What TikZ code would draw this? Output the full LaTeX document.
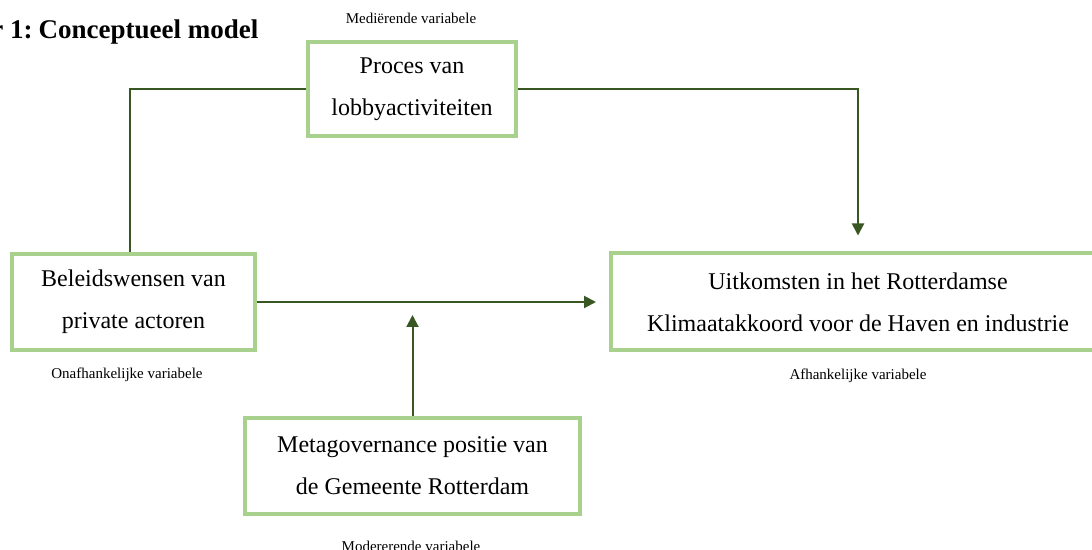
\documentclass[tikz,border=0pt]{standalone}
\usepackage{fontspec}
\setmainfont{Liberation Serif}
\usetikzlibrary{arrows.meta}
\definecolor{donkergroen}{HTML}{385723}
\definecolor{lichtgroen}{HTML}{A9D18E}

\begin{document}
\begin{tikzpicture}[
    x=0.5pt, y=-0.5pt,
    box/.style={draw=lichtgroen, line width=2pt, fill=white, align=center,
                font=\fontsize{12}{21}\selectfont},
    lbl/.style={font=\fontsize{7.5}{9}\selectfont, inner sep=0pt},
    conn/.style={draw=donkergroen, line width=1pt},
    >={Triangle[length=6pt, width=6pt]}
]
    \useasboundingbox (0,0) rectangle (1092,550);

    % 标题
    \node[anchor=base west, inner sep=0pt, font=\fontsize{13.5}{16}\selectfont\bfseries]
        (title) at (-9,39) {r 1:\hspace{-1.5pt} Conceptueel model};

    % 节点定义 (4个变量)
    \node[box, minimum width=104pt, minimum height=47pt] (P) at (412,89)
        {Proces van\\lobbyactiviteiten};                       % 上节点
    \node[box, minimum width=121.5pt, minimum height=48pt] (B) at (133.5,302)
        {Beleidswensen van\\private actoren};                  % 左节点
    \node[box, minimum width=247pt, minimum height=48.5pt] (U) at (858,302)
        {Uitkomsten in het Rotterdamse\\Klimaatakkoord voor de Haven en industrie}; % 右节点
    \node[box, minimum width=167.5pt, minimum height=48pt] (M) at (412.5,466)
        {Metagovernance positie van\\de Gemeente Rotterdam};   % 下节点

    % 变量类型
    \node[lbl] (lP) at (411,18) {Mediërende variabele};
    \node[lbl] (lB) at (127,375) {Onafhankelijke variabele};
    \node[lbl] (lU) at (858,376) {Afhankelijke variabele};
    \node[lbl] (lM) at (411,546) {Modererende variabele};

    % --- 连线 ---
    \coordinate (mod) at (412.5,315);
    \draw[conn] ([xshift=-1.75pt]B.north) |- (P.west);
    \draw[conn, ->, shorten >=8pt] (P.east) -| (U.north);
    \draw[conn, ->, shorten >=6.5pt] (B.east) -- (U.west);
    \draw[conn, ->] (M.north) -- (mod);

\end{tikzpicture}
\end{document}
